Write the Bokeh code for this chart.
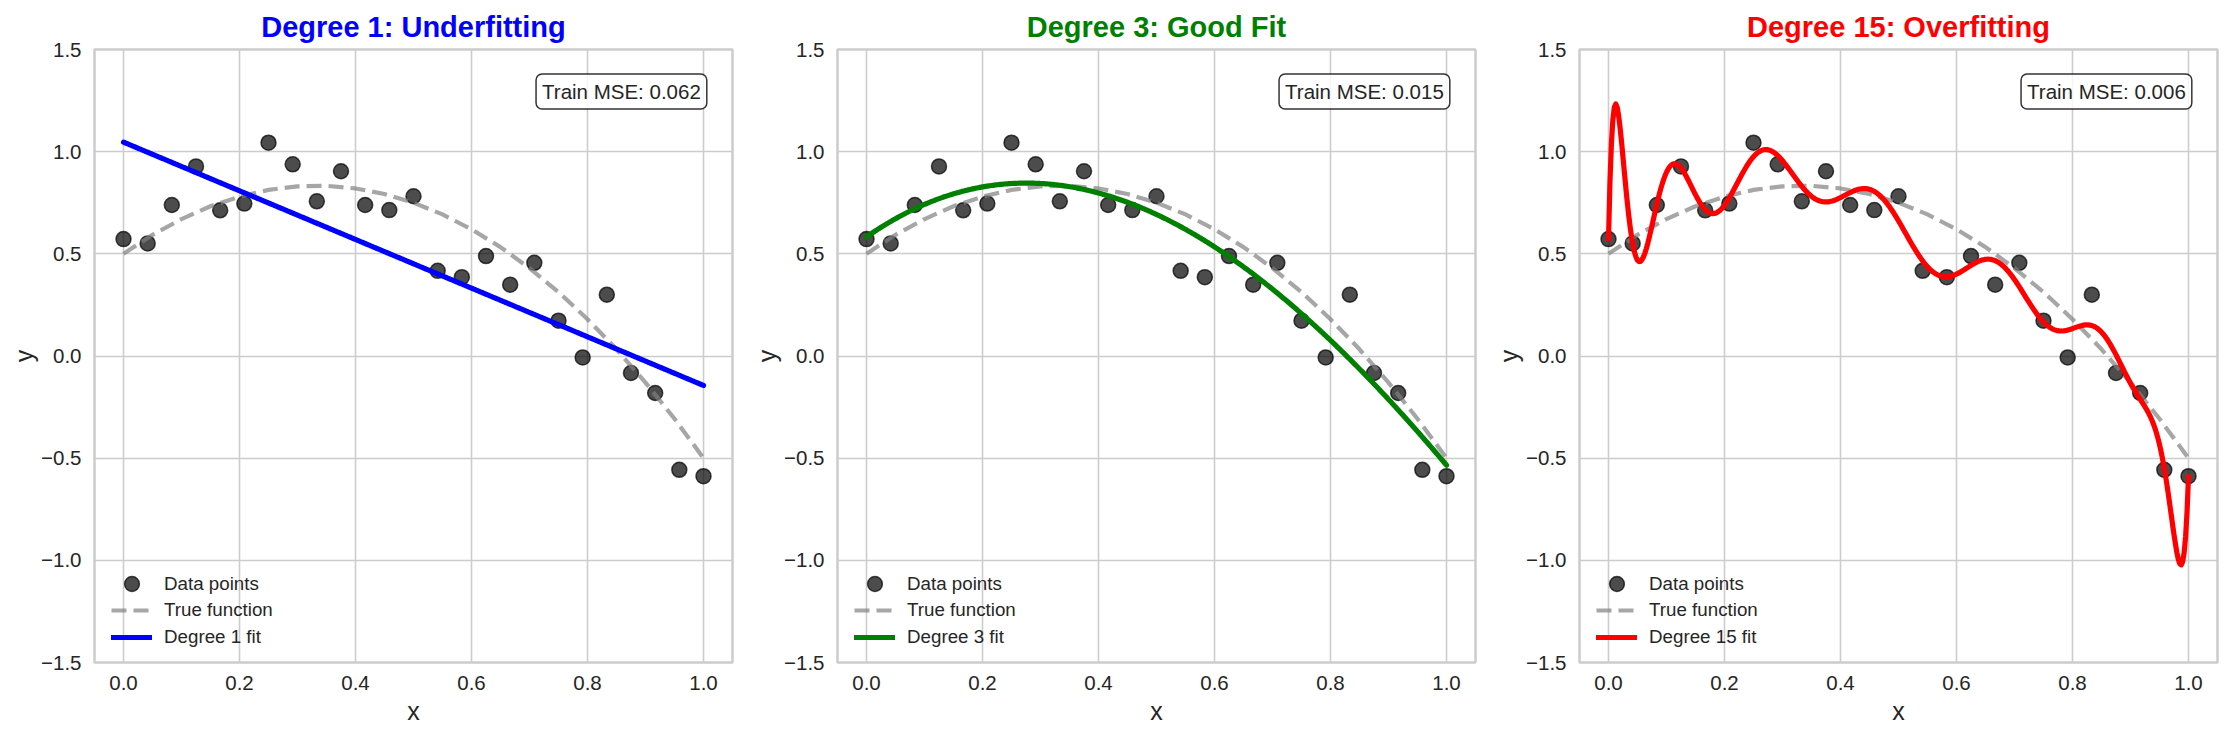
import numpy as np
from numpy.polynomial import Polynomial
from bokeh.plotting import figure
from bokeh.layouts import row
from bokeh.models import Label, Legend, LegendItem, FixedTicker
from bokeh.embed import file_html
from bokeh.resources import INLINE

# Noisy training samples
x_data = [0.000, 0.0417, 0.0833, 0.125, 0.1667, 0.2083, 0.250, 0.2917, 0.3333,
          0.375, 0.4167, 0.4583, 0.500, 0.5417, 0.5833, 0.625, 0.6667, 0.7083,
          0.750, 0.7917, 0.8333, 0.875, 0.9167, 0.9583, 1.000]
y_data = [0.572, 0.551, 0.739, 0.928, 0.713, 0.746, 1.044, 0.938, 0.757,
          0.904, 0.739, 0.714, 0.782, 0.417, 0.386, 0.489, 0.349, 0.456,
          0.173, -0.007, 0.300, -0.083, -0.181, -0.557, -0.588]

# Underlying (noise-free) function
x_true = [0.00, 0.05, 0.10, 0.15, 0.20, 0.25, 0.30, 0.35, 0.40, 0.45, 0.50,
          0.55, 0.60, 0.65, 0.70, 0.75, 0.80, 0.85, 0.90, 0.95, 1.00]
y_true = [0.500, 0.593, 0.670, 0.733, 0.780, 0.813, 0.830, 0.833, 0.820, 0.793, 0.750,
          0.693, 0.620, 0.533, 0.430, 0.313, 0.180, 0.033, -0.130, -0.307, -0.500]

# Model settings per panel
degrees = [1, 3, 15]
titles = ["Degree 1: Underfitting", "Degree 3: Good Fit", "Degree 15: Overfitting"]
colors = ["blue", "green", "red"]
train_mse = ["0.062", "0.015", "0.006"]

# Axis ticks
x_ticks = [0.0, 0.2, 0.4, 0.6, 0.8, 1.0]
x_tick_labels = ["0.0", "0.2", "0.4", "0.6", "0.8", "1.0"]
y_ticks = [-1.5, -1.0, -0.5, 0.0, 0.5, 1.0, 1.5]
y_tick_labels = ["\u22121.5", "\u22121.0", "\u22120.5", "0.0", "0.5", "1.0", "1.5"]

FONT = "Liberation Sans"
TEXT = "#262626"
GRID = "#cccccc"

x_plot = np.linspace(0, 1, 400)


def legend_box(items, location, glyph_height):
    return Legend(items=items, location=location, margin=0, padding=8,
                  glyph_width=41, glyph_height=glyph_height, label_height=22,
                  label_standoff=12, spacing=5,
                  label_text_font=FONT, label_text_font_size="18.75px",
                  label_text_color=TEXT,
                  border_line_color=None, background_fill_alpha=0)


def make_panel(i, border_left, border_right):
    deg = degrees[i]
    p = figure(frame_width=638, frame_height=613,
               x_range=(-0.05, 1.05), y_range=(-1.5, 1.5),
               min_border_left=border_left, min_border_right=border_right,
               min_border_top=49, min_border_bottom=73,
               output_backend="svg", toolbar_location=None,
               background_fill_color="white", border_fill_color="white")

    p.title.text = titles[i]
    p.title.text_color = colors[i]
    p.title.text_font = FONT
    p.title.text_font_size = "29px"
    p.title.text_font_style = "bold"
    p.title.align = "center"
    p.title.standoff = 13

    p.outline_line_color = GRID
    p.outline_line_width = 2.5

    p.xaxis.ticker = FixedTicker(ticks=x_ticks)
    p.yaxis.ticker = FixedTicker(ticks=y_ticks)
    p.xaxis.major_label_overrides = dict(zip(x_ticks, x_tick_labels))
    p.yaxis.major_label_overrides = dict(zip(y_ticks, y_tick_labels))
    p.xgrid.ticker = FixedTicker(ticks=x_ticks)
    p.ygrid.ticker = FixedTicker(ticks=y_ticks)
    p.grid.grid_line_color = GRID
    p.grid.grid_line_width = 1.6

    for ax in (p.xaxis, p.yaxis):
        ax.axis_line_color = None
        ax.major_tick_line_color = None
        ax.minor_tick_line_color = None
        ax.major_label_text_font = FONT
        ax.major_label_text_font_size = "20.5px"
        ax.major_label_text_color = TEXT
        ax.major_label_standoff = 7
        ax.axis_label_text_font = FONT
        ax.axis_label_text_font_size = "25px"
        ax.axis_label_text_font_style = "normal"
        ax.axis_label_text_color = TEXT
    p.xaxis.axis_label = "x"
    p.yaxis.axis_label = "y"
    p.xaxis.axis_label_standoff = 4
    p.yaxis.axis_label_standoff = 0

    r_pts = p.scatter(x_data, y_data, size=15, fill_color="black", fill_alpha=0.7,
                      line_color="black", line_alpha=0.7, line_width=1.5)
    r_true = p.line(x_true, y_true, line_color="gray", line_alpha=0.7,
                    line_width=4.2, line_dash="15 7")
    fit = Polynomial.fit(np.array(x_data), np.array(y_data), deg)
    r_fit = p.line(x_plot, fit(x_plot), line_color=colors[i], line_width=5.2,
                   line_cap="round", line_join="round")

    # legend: marker row on top, the two line rows below it
    p.add_layout(legend_box([LegendItem(label="Data points", renderers=[r_pts])],
                            (17, 60), 37))
    p.add_layout(legend_box([LegendItem(label="True function", renderers=[r_true]),
                             LegendItem(label=f"Degree {deg} fit", renderers=[r_fit])],
                            (17, 14), 22))

    p.add_layout(Label(x=1.0057, y=1.38, text=f"Train MSE: {train_mse[i]}",
                       text_align="right", text_baseline="top",
                       text_font=FONT, text_font_size="20.5px", text_color=TEXT,
                       padding=6, border_radius=6,
                       background_fill_color="white", background_fill_alpha=0.8,
                       border_line_color="black", border_line_alpha=0.8,
                       border_line_width=1.5))
    return p


p1 = make_panel(0, 94, 10)
p2 = make_panel(1, 95, 10)
p3 = make_panel(2, 94, 18)
layout = row(p1, p2, p3)

open("out.html", "w").write(file_html(layout, INLINE))
